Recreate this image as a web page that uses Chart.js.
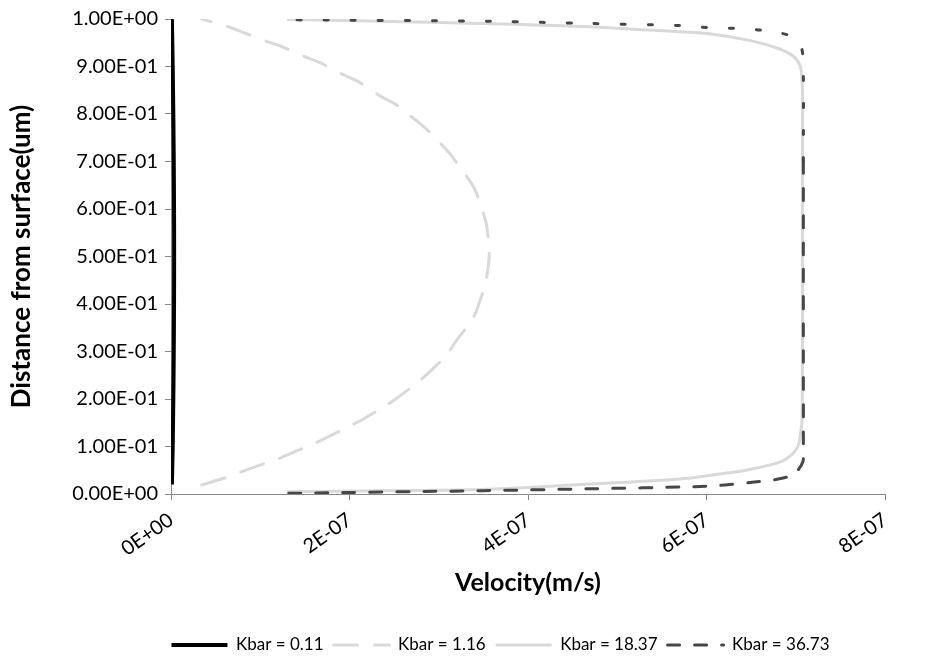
<!DOCTYPE html>
<html>
<head>
<meta charset="utf-8">
<script src="https://cdn.jsdelivr.net/npm/chart.js@4.4.1/dist/chart.umd.min.js"></script>
<style>
  html, body { margin: 0; padding: 0; background: #fff; }
</style>
</head>
<body>
<canvas id="myChart" width="926" height="659"></canvas>
<script>
// velocity profiles across the film, one pair of arrays per Kbar value
const seriesNames = ['Kbar = 0.11', 'Kbar = 1.16', 'Kbar = 18.37', 'Kbar = 36.73'];

const depth011 = [0.02, 0.1, 0.2, 0.3, 0.4, 0.51, 0.6, 0.7, 0.8, 0.9, 1.0];
const vel011 = [1.0e-9, 1.9e-9, 2.6e-9, 3.1e-9, 3.4e-9, 3.5e-9, 3.4e-9, 3.1e-9, 2.6e-9, 1.9e-9, 1.0e-9];

const depth116 = [0.019, 0.036, 0.047, 0.067, 0.077, 0.1, 0.112, 0.138, 0.152, 0.183, 0.199, 0.233, 0.254, 0.293, 0.321, 0.366, 0.394, 0.451, 0.486, 0.51,
  0.538, 0.571, 0.625, 0.653, 0.7, 0.724, 0.765, 0.786, 0.821, 0.836, 0.868, 0.881, 0.908, 0.919, 0.942, 0.952, 0.973, 0.984, 1.0];
const vel116 = [3.44e-8, 6.42e-8, 7.92e-8, 1.09e-7, 1.24e-7, 1.52e-7, 1.67e-7, 1.95e-7, 2.10e-7, 2.38e-7, 2.51e-7, 2.75e-7, 2.88e-7, 3.09e-7, 3.19e-7, 3.37e-7, 3.44e-7, 3.53e-7, 3.56e-7, 3.566e-7,
  3.555e-7, 3.53e-7, 3.44e-7, 3.37e-7, 3.19e-7, 3.09e-7, 2.88e-7, 2.75e-7, 2.51e-7, 2.36e-7, 2.10e-7, 1.95e-7, 1.67e-7, 1.52e-7, 1.24e-7, 1.087e-7, 7.92e-8, 6.39e-8, 3.44e-8];

const depth1837 = [0.005, 0.007, 0.0095, 0.02, 0.0316, 0.04, 0.0505, 0.067, 0.0857, 0.103, 0.128, 0.156, 0.3, 0.5, 0.7, 0.85,
  0.872, 0.901, 0.922, 0.939, 0.956, 0.968, 0.973, 0.984, 0.9905, 0.9952, 0.9994];
const vel1837 = [1.30e-7, 2.34e-7, 3.46e-7, 4.60e-7, 5.70e-7, 6.07e-7, 6.45e-7, 6.82e-7, 6.97e-7, 7.03e-7, 7.055e-7, 7.07e-7, 7.075e-7, 7.075e-7, 7.075e-7, 7.075e-7,
  7.07e-7, 7.05e-7, 6.97e-7, 6.79e-7, 6.45e-7, 6.07e-7, 5.70e-7, 4.58e-7, 3.46e-7, 2.34e-7, 1.30e-7];

const depth3673 = [0.0015, 0.007, 0.011, 0.0154, 0.019, 0.0246, 0.031, 0.038, 0.047, 0.068, 0.0996, 0.3, 0.5, 0.7, 0.921,
  0.9516, 0.965, 0.976, 0.98, 0.9817, 0.986, 0.9905, 0.995, 0.9983];
const vel3673 = [1.32e-7, 3.50e-7, 4.69e-7, 5.87e-7, 6.21e-7, 6.51e-7, 6.79e-7, 6.94e-7, 7.01e-7, 7.08e-7, 7.085e-7, 7.085e-7, 7.085e-7, 7.085e-7, 7.08e-7,
  7.04e-7, 6.94e-7, 6.64e-7, 6.34e-7, 6.04e-7, 5.74e-7, 4.69e-7, 3.63e-7, 1.32e-7];

const xTicks = [0, 2e-7, 4e-7, 6e-7, 8e-7];

function toPoints(xs, ys) {
  return xs.map((v, i) => ({ x: v, y: ys[i] }));
}

// 2e-7 -> "2E-07", 0.9 -> "9.00E-01"
function sci(v, digits) {
  if (Math.abs(v) < 1e-20) v = 0;
  const parts = v.toExponential(digits).split('e');
  const n = parseInt(parts[1], 10);
  return parts[0] + 'E' + (n < 0 ? '-' : '+') + String(Math.abs(n)).padStart(2, '0');
}

const FONT = 'Lato';
const axisGrey = '#898989';

// nudge the legend row under the plot
const legendShift = {
  id: 'legendShift',
  afterLayout(chart) {
    const l = chart.legend;
    l.left += 58; l.right += 58;
    l.top += 4.5; l.bottom += 4.5;
  }
};

const ctx = document.getElementById('myChart').getContext('2d');

new Chart(ctx, {
  type: 'scatter',
  data: {
    datasets: [
      {
        label: seriesNames[0],
        data: toPoints(vel011, depth011),
        borderColor: '#000000',
        borderWidth: 4,
        order: 3
      },
      {
        label: seriesNames[1],
        data: toPoints(vel116, depth116),
        borderColor: '#d9d9d9',
        borderWidth: 3,
        borderDash: [24, 17],
        borderCapStyle: 'round',
        order: 2
      },
      {
        label: seriesNames[2],
        data: toPoints(vel1837, depth1837),
        borderColor: '#d9d9d9',
        borderWidth: 3,
        order: 1
      },
      {
        label: seriesNames[3],
        data: toPoints(vel3673, depth3673),
        borderColor: '#474747',
        borderWidth: 3,
        borderDash: [12, 15],
        borderCapStyle: 'round',
        // upper half comes out as short dots
        segment: {
          borderDash: c => c.p0.parsed.y > 0.5 ? [4, 23] : undefined
        },
        order: 0
      }
    ]
  },
  options: {
    responsive: false,
    animation: false,
    showLine: true,
    elements: {
      point: { radius: 0, hoverRadius: 0 },
      line: { tension: 0.3, fill: false, backgroundColor: 'transparent' }
    },
    layout: { padding: { left: 0, right: 41, top: 19, bottom: 0 } },
    plugins: {
      tooltip: { enabled: false },
      legend: {
        position: 'bottom',
        labels: {
          usePointStyle: true,
          pointStyle: 'line',
          pointStyleWidth: 56,
          boxHeight: 16,
          padding: 10,
          color: '#000',
          font: { family: FONT, size: 17 },
          generateLabels: chart => chart.data.datasets.map((ds, i) => ({
            text: ds.label,
            datasetIndex: i,
            hidden: false,
            fontColor: '#000',
            fillStyle: ds.borderColor,
            strokeStyle: ds.borderColor,
            lineWidth: ds.borderWidth,
            lineDash: ds.borderDash || [],
            lineCap: ds.borderCapStyle || 'butt',
            pointStyle: 'line'
          }))
        }
      }
    },
    scales: {
      x: {
        type: 'linear',
        min: 0,
        max: 8e-7,
        afterBuildTicks: s => { s.ticks = xTicks.map(v => ({ value: v })); },
        afterFit: s => { s.height = 659 - 494 - s.chart.legend.height; },
        border: { display: true, color: axisGrey, width: 1 },
        grid: { display: true, drawOnChartArea: false, drawTicks: true, tickLength: 6, color: axisGrey, tickColor: axisGrey },
        ticks: {
          color: '#000',
          font: { family: FONT, size: 20 },
          minRotation: 35,
          maxRotation: 35,
          padding: 8,
          callback: v => sci(v, 0)
        },
        title: {
          display: true,
          text: 'Velocity(m/s)',
          color: '#000',
          font: { family: FONT, size: 25, weight: 'bold' },
          padding: { top: 0, bottom: 24 }
        }
      },
      y: {
        type: 'linear',
        min: 0,
        max: 1,
        ticks: {
          stepSize: 0.1,
          color: '#000',
          font: { family: FONT, size: 20 },
          padding: 7,
          callback: v => sci(v, 2)
        },
        afterFit: s => { s.width = 171; },
        border: { display: true, color: axisGrey, width: 1 },
        grid: { display: true, drawOnChartArea: false, drawTicks: true, tickLength: 6, color: axisGrey, tickColor: axisGrey },
        title: {
          display: true,
          text: 'Distance from surface(um)',
          color: '#000',
          font: { family: FONT, size: 26, weight: 'bold' },
          padding: { top: 6, bottom: 0 }
        }
      }
    }
  },
  plugins: [legendShift]
});
</script>
</body>
</html>
